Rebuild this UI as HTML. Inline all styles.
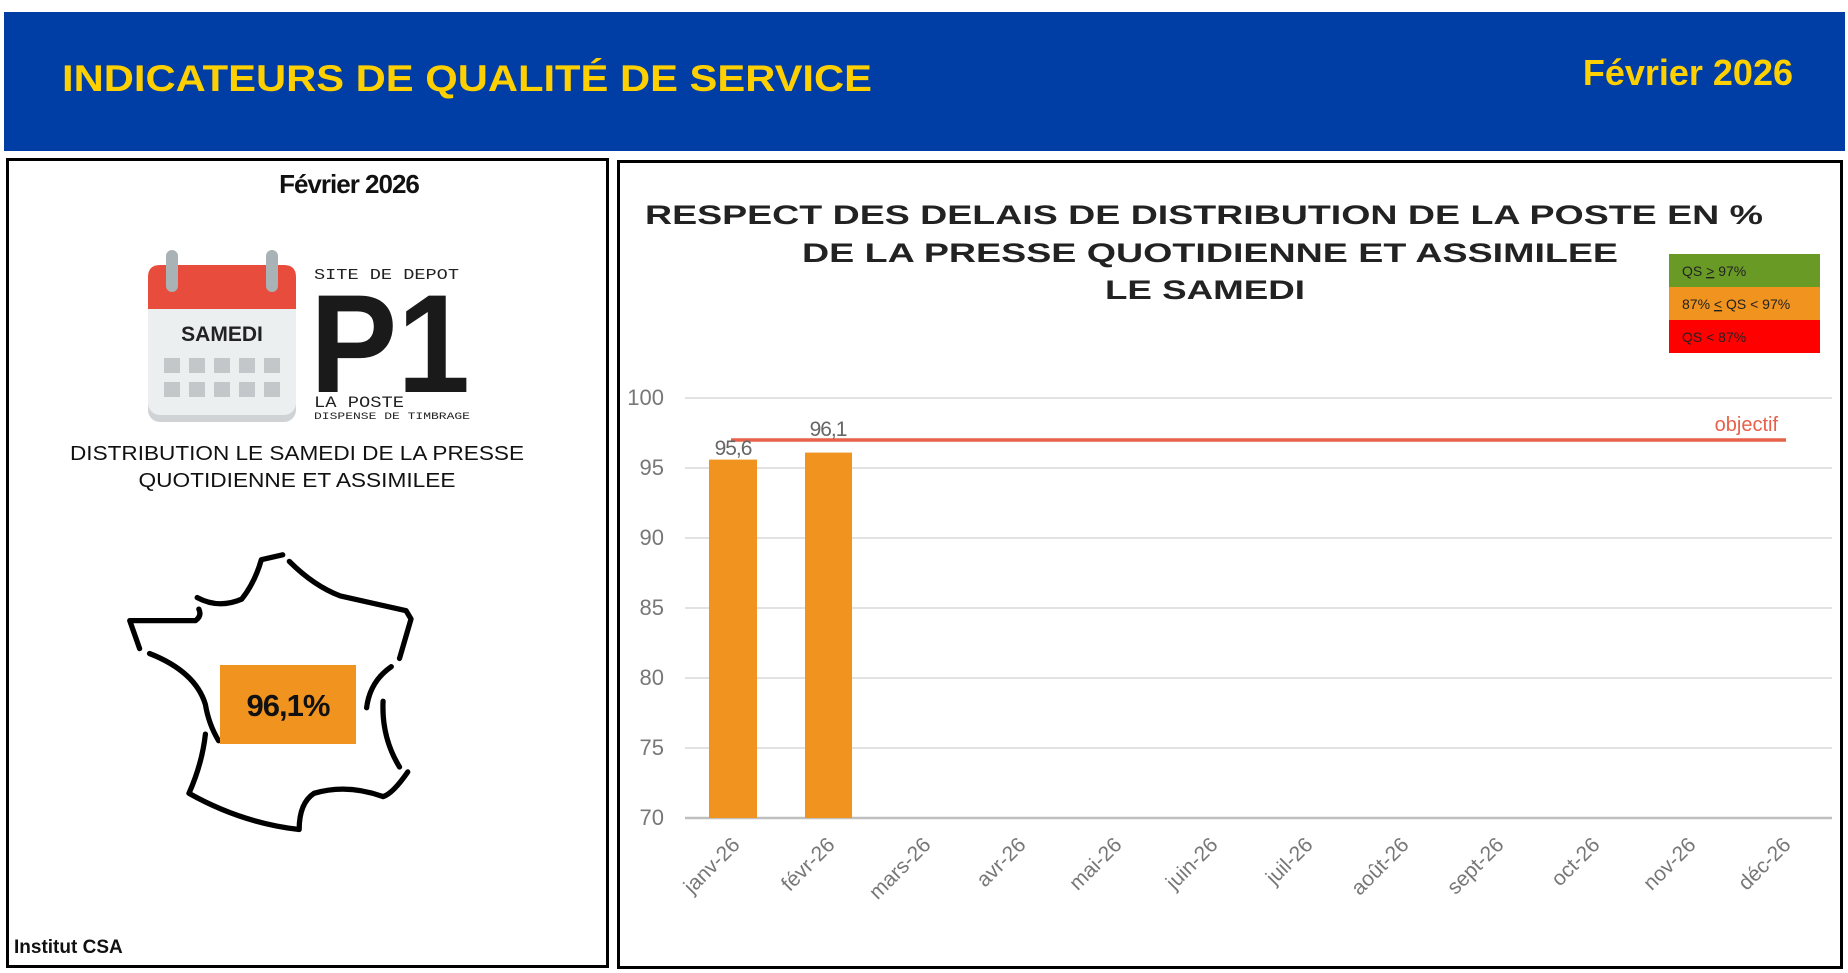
<!DOCTYPE html>
<html><head><meta charset="utf-8"><style>
html,body{margin:0;padding:0;background:#fff;}
svg{display:block;font-family:"Liberation Sans",sans-serif;}
</style></head><body>
<svg width="1848" height="973" viewBox="0 0 1848 973" xmlns="http://www.w3.org/2000/svg">
<rect x="0" y="0" width="1848" height="973" fill="#fff"/>
<!-- header -->
<rect x="4" y="12" width="1841" height="139" fill="#003da5"/>
<text x="62" y="91" font-size="37" font-weight="bold" fill="#ffd000" textLength="810" lengthAdjust="spacingAndGlyphs">INDICATEURS DE QUALITÉ DE SERVICE</text>
<text x="1793" y="85" font-size="36" font-weight="bold" fill="#ffd000" text-anchor="end">Février 2026</text>
<!-- left panel -->
<rect x="7.5" y="159.5" width="600" height="807" fill="none" stroke="#000" stroke-width="3"/>
<text x="349" y="193" font-size="26" font-weight="bold" fill="#111" text-anchor="middle" letter-spacing="-1">Février 2026</text>
<!-- calendar -->
<rect x="148" y="272" width="148" height="150" rx="12" fill="#cfd3d5"/>
<rect x="148" y="265" width="148" height="150" rx="12" fill="#eceff0"/>
<path d="M148,309 L148,277 Q148,265 160,265 L284,265 Q296,265 296,277 L296,309 Z" fill="#e84c3d"/>
<rect x="166" y="250" width="12" height="42" rx="6" fill="#a9b2b4"/>
<rect x="266" y="250" width="12" height="42" rx="6" fill="#a9b2b4"/>
<text x="222" y="341" font-size="21" font-weight="bold" fill="#222" text-anchor="middle">SAMEDI</text>
<g fill="#c3c7c9">
<rect x="164" y="358" width="16" height="15"/><rect x="189" y="358" width="16" height="15"/><rect x="214" y="358" width="16" height="15"/><rect x="239" y="358" width="16" height="15"/><rect x="264" y="358" width="16" height="15"/>
<rect x="164" y="382" width="16" height="15"/><rect x="189" y="382" width="16" height="15"/><rect x="214" y="382" width="16" height="15"/><rect x="239" y="382" width="16" height="15"/><rect x="264" y="382" width="16" height="15"/>
</g>
<text x="314" y="279" font-size="15" fill="#222" font-family="Liberation Mono,monospace" textLength="145" lengthAdjust="spacingAndGlyphs">SITE DE DEPOT</text>
<text x="310" y="392" font-size="140" font-weight="bold" fill="#1a1a1a" textLength="160" lengthAdjust="spacingAndGlyphs">P1</text>
<text x="314" y="407" font-size="16" fill="#222" font-family="Liberation Mono,monospace" textLength="90" lengthAdjust="spacingAndGlyphs">LA POSTE</text>
<text x="314" y="419" font-size="10" fill="#222" font-family="Liberation Mono,monospace" textLength="156" lengthAdjust="spacingAndGlyphs">DISPENSE DE TIMBRAGE</text>
<text x="297" y="460" font-size="20" fill="#111" text-anchor="middle" textLength="454" lengthAdjust="spacingAndGlyphs">DISTRIBUTION LE SAMEDI DE LA PRESSE</text>
<text x="297" y="487" font-size="20" fill="#111" text-anchor="middle" textLength="317" lengthAdjust="spacingAndGlyphs">QUOTIDIENNE ET ASSIMILEE</text>
<!-- france -->
<g transform="translate(110,540) scale(0.329)" fill="none" stroke="#000" stroke-width="16" stroke-linecap="round" stroke-linejoin="round">
<path d="M90,330 L60,245 L260,245 Q280,230 270,210"/>
<path d="M265,175 Q330,210 400,180 Q440,130 460,60 L525,45"/>
<path d="M545,65 Q620,140 700,170 L900,215 L915,240 L880,360"/>
<path d="M855,385 Q790,430 780,510"/>
<path d="M830,490 Q825,600 880,690"/>
<path d="M905,705 Q860,770 830,780 Q720,740 620,770 Q575,800 575,880 Q400,860 240,770 Q280,680 290,590"/>
<path d="M330,610 Q300,560 290,500 Q260,400 120,345"/>
</g>
<rect x="220" y="665" width="136" height="79" fill="#f0931f"/>
<text x="288" y="716" font-size="31" font-weight="bold" fill="#111" text-anchor="middle" letter-spacing="-1">96,1%</text>
<text x="14" y="953" font-size="19" font-weight="bold" fill="#111">Institut CSA</text>
<!-- right panel -->
<rect x="618.5" y="161.5" width="1223" height="806" fill="none" stroke="#000" stroke-width="3"/>
<g font-size="27" font-weight="bold" fill="#222" text-anchor="middle">
<text x="1204" y="224" textLength="1118" lengthAdjust="spacingAndGlyphs">RESPECT DES DELAIS DE DISTRIBUTION DE LA POSTE EN %</text>
<text x="1210" y="262" textLength="816" lengthAdjust="spacingAndGlyphs">DE LA PRESSE QUOTIDIENNE ET ASSIMILEE</text>
<text x="1205" y="299" textLength="200" lengthAdjust="spacingAndGlyphs">LE SAMEDI</text>
</g>
<!-- legend -->
<rect x="1669" y="254" width="151" height="33" fill="#6a9a26"/>
<rect x="1669" y="287" width="151" height="33" fill="#f0931f"/>
<rect x="1669" y="320" width="151" height="33" fill="#ff0000"/>
<g font-size="14" fill="#222">
<text x="1682" y="276">QS <tspan text-decoration="underline">&gt;</tspan> 97%</text>
<text x="1682" y="309">87% <tspan text-decoration="underline">&lt;</tspan> QS &lt; 97%</text>
<text x="1682" y="342">QS &lt; 87%</text>
</g>
<!-- grid -->
<g stroke="#d9d9d9" stroke-width="1.5">
<line x1="685" y1="398" x2="1832" y2="398"/>
<line x1="685" y1="468" x2="1832" y2="468"/>
<line x1="685" y1="538" x2="1832" y2="538"/>
<line x1="685" y1="608" x2="1832" y2="608"/>
<line x1="685" y1="678" x2="1832" y2="678"/>
<line x1="685" y1="748" x2="1832" y2="748"/>
</g>
<line x1="685" y1="818" x2="1832" y2="818" stroke="#bfbfbf" stroke-width="2.5"/>
<g font-size="22" fill="#777" text-anchor="end">
<text x="664" y="405">100</text><text x="664" y="475">95</text><text x="664" y="545">90</text>
<text x="664" y="615">85</text><text x="664" y="685">80</text><text x="664" y="755">75</text><text x="664" y="825">70</text>
</g>
<!-- bars -->
<rect x="709" y="459.6" width="48" height="358.4" fill="#f0931f"/>
<rect x="805" y="452.6" width="47" height="365.4" fill="#f0931f"/>
<line x1="731" y1="440" x2="1786" y2="440" stroke="#e8604a" stroke-width="3.5"/>
<text x="1778" y="431" font-size="20" fill="#e8604a" text-anchor="end">objectif</text>
<g font-size="21" fill="#666" text-anchor="middle" letter-spacing="-1">
<text x="733" y="455">95,6</text>
<text x="828" y="436">96,1</text>
</g>
<!-- x labels -->
<g font-size="21" fill="#777" text-anchor="end">
<text transform="translate(741,846) rotate(-45)">janv-26</text>
<text transform="translate(836,846) rotate(-45)">févr-26</text>
<text transform="translate(932,846) rotate(-45)">mars-26</text>
<text transform="translate(1027,846) rotate(-45)">avr-26</text>
<text transform="translate(1123,846) rotate(-45)">mai-26</text>
<text transform="translate(1219,846) rotate(-45)">juin-26</text>
<text transform="translate(1314,846) rotate(-45)">juil-26</text>
<text transform="translate(1410,846) rotate(-45)">août-26</text>
<text transform="translate(1505,846) rotate(-45)">sept-26</text>
<text transform="translate(1601,846) rotate(-45)">oct-26</text>
<text transform="translate(1697,846) rotate(-45)">nov-26</text>
<text transform="translate(1792,846) rotate(-45)">déc-26</text>
</g>
</svg>
</body></html>
